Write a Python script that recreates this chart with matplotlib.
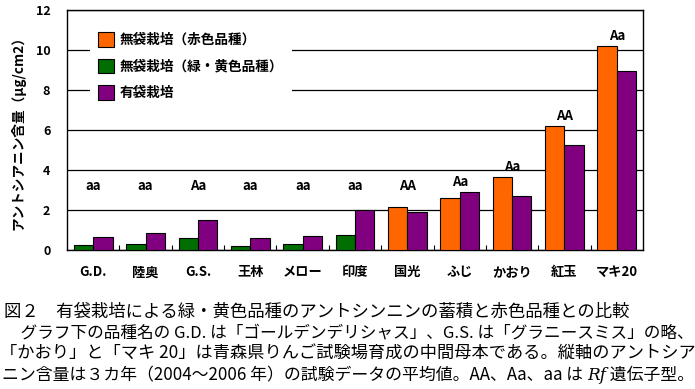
import matplotlib
matplotlib.use("Agg")
import matplotlib.pyplot as plt
import numpy as np
from matplotlib.patches import Patch

plt.rcParams['font.family'] = ['Noto Sans CJK JP', 'DejaVu Sans']

categories = ['G.D.', '陸奥', 'G.S.', '王林', 'メロー', '印度', '国光', 'ふじ', 'かおり', '紅玉', 'マキ20']
# bagless value (green for green/yellow varieties, orange for red varieties)
bagless = [0.25, 0.30, 0.60, 0.20, 0.30, 0.75, 2.14, 2.59, 3.63, 6.17, 10.20]
is_red = [False, False, False, False, False, False, True, True, True, True, True]
bagged = [0.65, 0.85, 1.49, 0.60, 0.70, 2.00, 1.89, 2.89, 2.69, 5.23, 8.91]
genotype = ['aa', 'aa', 'Aa', 'aa', 'aa', 'aa', 'AA', 'Aa', 'Aa', 'AA', 'Aa']
yticks = [0, 2, 4, 6, 8, 10, 12]

ORANGE = '#FF6600'
GREEN = '#006E00'
PURPLE = '#800080'

W, H = 695, 389
fig = plt.figure(figsize=(W / 100, H / 100), dpi=100)
ax = fig.add_axes([67 / W, 1 - 250 / H, 576 / W, 240.5 / H])

x = np.arange(len(categories)) + 0.5
bw = 0.37
cols = [ORANGE if r else GREEN for r in is_red]
ax.bar(x - bw / 2, bagless, bw, color=cols, edgecolor='black', linewidth=0.8, zorder=3)
ax.bar(x + bw / 2, bagged, bw, color=PURPLE, edgecolor='black', linewidth=0.8, zorder=3)

ax.set_xlim(0, len(categories))
ax.set_ylim(0, 12)
ax.set_yticks(yticks)
ax.set_yticklabels([str(v) for v in yticks], fontsize=9, fontweight='bold')
ax.yaxis.grid(True, color='black', linewidth=0.9, zorder=0)
ax.set_axisbelow(True)
ax.tick_params(axis='y', length=0, pad=12)

ax.set_xticks(x)
ax.set_xticklabels(categories, fontsize=9.5, fontweight='bold')
ax.tick_params(axis='x', which='major', length=0, pad=11)
ax.set_xticks(np.arange(1, len(categories)), minor=True)
ax.tick_params(axis='x', which='minor', direction='in', length=3.5, width=0.8)

for s in ax.spines.values():
    s.set_linewidth(1.0)

for xi, a, b, g in zip(x, bagless, bagged, genotype):
    top = max(2.7, a, b) + 0.3
    ax.text(xi, top, g, ha='center', va='baseline', fontsize=9.5, fontweight='bold', zorder=4)

ax.set_ylabel('アントシアニン含量（μg/cm2）', fontsize=9.8, fontweight='bold', labelpad=7)

handles = [Patch(facecolor=ORANGE, edgecolor='black', linewidth=0.8),
           Patch(facecolor=GREEN, edgecolor='black', linewidth=0.8),
           Patch(facecolor=PURPLE, edgecolor='black', linewidth=0.8)]
labels = ['無袋栽培（赤色品種）', '無袋栽培（緑・黄色品種）', '有袋栽培']
leg = ax.legend(handles, labels, loc='upper left', bbox_to_anchor=(0.04, 0.94),
                prop={'size': 9.8, 'weight': 'bold'}, frameon=True, fancybox=False,
                facecolor='white', edgecolor='none', framealpha=1,
                handlelength=1.15, handleheight=1.3, labelspacing=0.85,
                handletextpad=0.45, borderpad=0.6, borderaxespad=0)
leg.set_zorder(5)

# caption
renderer = fig.canvas.get_renderer()
cap_fs = 12


def fit_line(s, x0, x1, y):
    t = fig.text(x0 / W, 1 - y / H, s, fontsize=cap_fs, va='center', ha='left')
    w = t.get_window_extent(renderer).width
    t.set_fontsize(cap_fs * (x1 - x0) / w)
    return t


fit_line('図２　有袋栽培による緑・黄色品種のアントシンニンの蓄積と赤色品種との比較', 4, 628, 312)
fit_line('　グラフ下の品種名の G.D. は「ゴールデンデリシャス」、G.S. は「グラニースミス」の略、', 4, 693, 333)
fit_line('「かおり」と「マキ 20」は青森県りんご試験場育成の中間母本である。縦軸のアントシア', 0, 693, 354)

# last line with italic Rf
y4 = 1 - 375 / H
parts = [('ニン含量は３カ年（2004〜2006 年）の試験データの平均値。AA、Aa、aa は ', {}),
         ('Rf', {'style': 'italic', 'family': ['DejaVu Serif']}),
         (' 遺伝子型。', {})]
texts = []
xpos = 2
for s, kw in parts:
    t = fig.text(xpos / W, y4, s, fontsize=cap_fs, va='center', ha='left', **kw)
    xpos = t.get_window_extent(renderer).x1
    texts.append(t)
total = xpos - 2
scale = (693 - 2) / total
xpos = 2
for t in texts:
    t.set_fontsize(cap_fs * scale)
    t.set_x(xpos / W)
    xpos = t.get_window_extent(renderer).x1

fig.savefig('out.png', dpi=100)
